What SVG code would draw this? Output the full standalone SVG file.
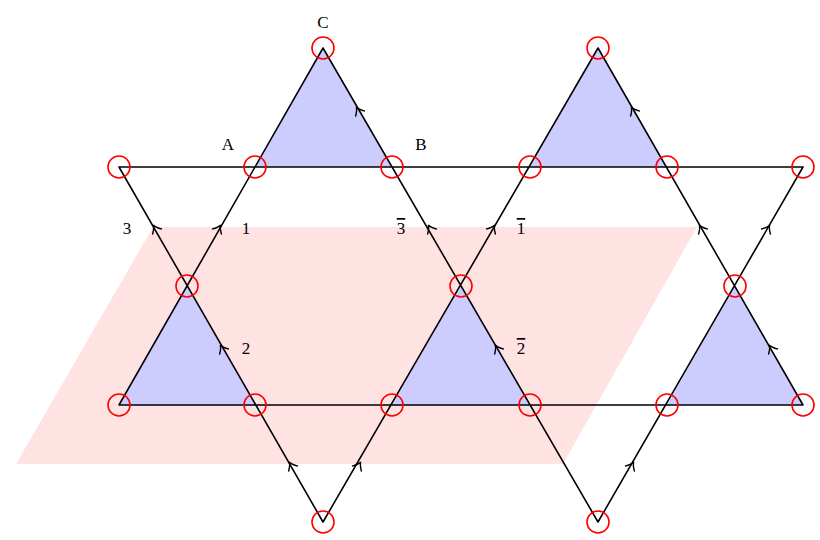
<svg xmlns="http://www.w3.org/2000/svg" width="820" height="540" viewBox="0 0 820 540">
<style>
.l{stroke:#000;stroke-width:1.6;fill:none;stroke-linecap:round}
.t{fill:#ccccff}
.v{fill:none;stroke:#f00;stroke-width:1.6}
.a{fill:none;stroke:#000;stroke-width:1.4}
text{font-family:"Liberation Serif",serif;font-size:17px;text-anchor:middle}
.o{text-decoration:overline}
</style>
<defs>
<path id="ah" class="a" d="M-5.5,4.5 C-2.5,1.5 -0.5,-0.5 0,-3.5 C0.5,-0.5 2.5,1.5 5.5,4.5"/>
</defs>
<rect width="820" height="540" fill="#fff"/>
<polygon points="153,227 697,227 563,464 16,464" fill="#ffe3e3"/>
<g id="triangles">
<polygon class="t" points="323,48 255,167 392,167"/>
<polygon class="t" points="598,48 530,167 667,167"/>
<polygon class="t" points="187,286 119,405 255,405"/>
<polygon class="t" points="461,286 392,405 530,405"/>
<polygon class="t" points="735,286 667,405 803,405"/>
</g>
<g id="connectors">
<path class="l" d="M119,167H803M119,405H803M323,48L119,405M323,48L598,522M119,167L323,522M598,48L323,522M598,48L803,405M803,167L598,522"/>
<use href="#ah" transform="translate(155,228) rotate(-30)"/>
<use href="#ah" transform="translate(219,228) rotate(30)"/>
<use href="#ah" transform="translate(358,110) rotate(-30)"/>
<use href="#ah" transform="translate(633,110) rotate(-30)"/>
<use href="#ah" transform="translate(430,228) rotate(-30)"/>
<use href="#ah" transform="translate(493,228) rotate(30)"/>
<use href="#ah" transform="translate(222,348) rotate(-30)"/>
<use href="#ah" transform="translate(497,348) rotate(-30)"/>
<use href="#ah" transform="translate(771,348) rotate(-30)"/>
<use href="#ah" transform="translate(701,228) rotate(-30)"/>
<use href="#ah" transform="translate(768,228) rotate(30)"/>
<use href="#ah" transform="translate(291,465) rotate(-30)"/>
<use href="#ah" transform="translate(359,465) rotate(30)"/>
<use href="#ah" transform="translate(632,465) rotate(30)"/>
</g>
<g id="vertices">
<circle class="v" cx="323" cy="48" r="11"/><circle class="v" cx="598" cy="48" r="11"/>
<circle class="v" cx="119" cy="167" r="11"/><circle class="v" cx="255" cy="167" r="11"/><circle class="v" cx="392" cy="167" r="11"/><circle class="v" cx="530" cy="167" r="11"/><circle class="v" cx="667" cy="167" r="11"/><circle class="v" cx="803" cy="167" r="11"/>
<circle class="v" cx="187" cy="286" r="11"/><circle class="v" cx="461" cy="286" r="11"/><circle class="v" cx="735" cy="286" r="11"/>
<circle class="v" cx="119" cy="405" r="11"/><circle class="v" cx="255" cy="405" r="11"/><circle class="v" cx="392" cy="405" r="11"/><circle class="v" cx="530" cy="405" r="11"/><circle class="v" cx="667" cy="405" r="11"/><circle class="v" cx="803" cy="405" r="11"/>
<circle class="v" cx="323" cy="522" r="11"/><circle class="v" cx="598" cy="522" r="11"/>
</g>
<g id="labels">
<text x="323" y="28">C</text>
<text x="228" y="150">A</text>
<text x="421" y="150">B</text>
<text x="127" y="234">3</text>
<text x="246" y="234">1</text>
<text x="401" y="234" class="o">3</text>
<text x="521" y="234" class="o">1</text>
<text x="246" y="354">2</text>
<text x="521" y="354" class="o">2</text>
</g>
</svg>
